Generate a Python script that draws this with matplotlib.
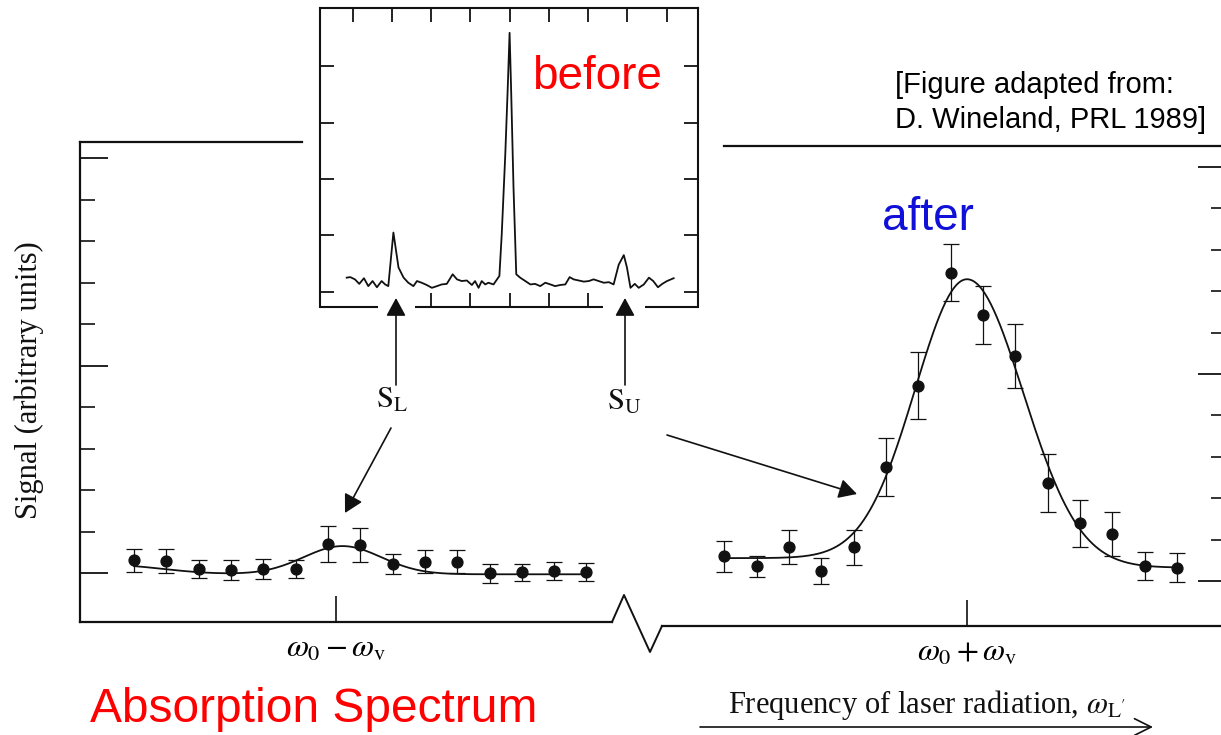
import numpy as np
import matplotlib
matplotlib.use("Agg")
import matplotlib.pyplot as plt
from matplotlib.patches import FancyArrowPatch

plt.rcParams["mathtext.fontset"] = "stix"
plt.rcParams["font.family"] = ["Liberation Serif", "DejaVu Serif"]

# lower sideband (left panel), x in point spacings from w0 - wv
low_x = [-6.25, -5.25, -4.25, -3.25, -2.25, -1.25, -0.25, 0.75, 1.75, 2.75, 3.75, 4.75, 5.75, 6.75, 7.75]
low_y = [0.31, 0.29, 0.10, 0.07, 0.10, 0.10, 0.70, 0.67, 0.22, 0.27, 0.27, 0.00, 0.02, 0.05, 0.02]
low_err = [0.28, 0.30, 0.22, 0.24, 0.25, 0.21, 0.43, 0.41, 0.24, 0.28, 0.28, 0.23, 0.21, 0.22, 0.22]

# upper sideband (right panel), x in point spacings from w0 + wv
up_x = [-7.5, -6.5, -5.5, -4.5, -3.5, -2.5, -1.5, -0.5, 0.5, 1.5, 2.5, 3.5, 4.5, 5.5, 6.5]
up_y = [0.59, 0.35, 0.81, 0.24, 0.81, 2.76, 4.72, 7.45, 6.43, 5.44, 2.36, 1.39, 1.14, 0.36, 0.32]
up_err = [0.38, 0.26, 0.41, 0.31, 0.43, 0.70, 0.80, 0.68, 0.70, 0.77, 0.70, 0.56, 0.53, 0.33, 0.35]

# fitted curves, parameters
low_fit = dict(base=-0.03, amp=0.68, center=0.2, sigma=1.2,
               tail_amp=0.22, tail_center=-7.0, tail_sigma=1.6)
up_fit = dict(base_left=0.55, base_right=0.32, peak=7.29, center=0.0,
              sigma_left=1.6, sigma_right=1.74)

# "before" spectrum (inset)
trace_x = [-4.15, -4.06, -3.94, -3.83, -3.71, -3.60, -3.49, -3.38, -3.26, -3.17, -3.09, -2.96, -2.83,
           -2.70, -2.58, -2.45, -2.36, -2.24, -2.11, -1.98, -1.85, -1.73, -1.60, -1.45, -1.34, -1.22,
           -1.09, -0.96, -0.88, -0.79, -0.71, -0.62, -0.54, -0.41, -0.26, -0.20, -0.11, -0.05, 0.00,
           0.04, 0.10, 0.17, 0.27, 0.40, 0.53, 0.65, 0.78, 0.91, 1.04, 1.16, 1.29, 1.42, 1.53, 1.63,
           1.76, 1.89, 2.02, 2.14, 2.27, 2.40, 2.53, 2.65, 2.78, 2.91, 2.99, 3.08, 3.19, 3.29, 3.42,
           3.55, 3.66, 3.78, 3.89, 4.01, 4.18]
trace_y = [0.25, 0.26, 0.22, 0.14, 0.24, 0.10, 0.19, 0.08, 0.19, 0.13, 0.10, 1.05, 0.43,
           0.25, 0.16, 0.10, 0.19, 0.16, 0.12, 0.07, 0.10, 0.13, 0.14, 0.31, 0.22, 0.19,
           0.20, 0.12, 0.19, 0.07, 0.19, 0.13, 0.16, 0.13, 0.28, 1.02, 2.43, 3.56, 4.59,
           3.56, 1.84, 0.31, 0.25, 0.19, 0.13, 0.14, 0.10, 0.16, 0.13, 0.10, 0.12, 0.13, 0.26, 0.22,
           0.20, 0.18, 0.19, 0.22, 0.19, 0.16, 0.17, 0.13, 0.48, 0.65, 0.43, 0.07, 0.14, 0.07, 0.13,
           0.25, 0.19, 0.08, 0.14, 0.19, 0.24]

low_label = r"$\omega_0 - \omega_{\mathrm{v}}$"
up_label = r"$\omega_0 + \omega_{\mathrm{v}}$"

ink = "#111111"
W, H = 1221, 735


def box(x0, y0, x1, y1):
    return [x0 / W, 1 - y1 / H, (x1 - x0) / W, (y1 - y0) / H]


def low_curve(x, p):
    return (p["base"] + p["amp"] * np.exp(-(x - p["center"]) ** 2 / (2 * p["sigma"] ** 2))
            + p["tail_amp"] * np.exp(-(x - p["tail_center"]) ** 2 / (2 * p["tail_sigma"] ** 2)))


def up_curve(x, p):
    left = x < p["center"]
    sig = np.where(left, p["sigma_left"], p["sigma_right"])
    base = np.where(left, p["base_left"], p["base_right"])
    return base + (p["peak"] - base) * np.exp(-(x - p["center"]) ** 2 / (2 * sig ** 2))


fig = plt.figure(figsize=(W / 100, H / 100), dpi=100)

axL = fig.add_axes(box(80, 142, 612, 622))
axR = fig.add_axes(box(662, 146, 1226, 626))
axL.set_xlim(-7.92, 8.54)
axL.set_ylim(-1.18, 10.39)
axR.set_xlim(-9.43, 8.01)
axR.set_ylim(-1.09, 10.51)

for ax, xs, ys, es, lab in [(axL, low_x, low_y, low_err, low_label),
                            (axR, up_x, up_y, up_err, up_label)]:
    ax.errorbar(xs, ys, yerr=es, fmt="o", color=ink, ms=7.8, elinewidth=0.9,
                capsize=5.8, capthick=0.9)
    ax.set_yticks([0, 5, 10])
    ax.set_yticks([1, 2, 3, 4, 6, 7, 8, 9], minor=True)
    ax.set_xticks([0])
    ax.set_xticklabels([lab])
    ax.tick_params(axis="y", which="major", direction="in", length=20, width=1.3,
                   labelleft=False, labelright=False, color=ink)
    ax.tick_params(axis="y", which="minor", direction="in", length=11, width=1.2, color=ink)
    ax.tick_params(axis="x", direction="in", length=19, width=1.2, pad=9,
                   labelsize=23, color=ink)
    for s in ax.spines.values():
        s.set_linewidth(1.6)
        s.set_color(ink)
    ax.patch.set_alpha(0)

xl = np.linspace(low_x[0], low_x[-1], 300)
axL.plot(xl, low_curve(xl, low_fit), color=ink, lw=1.3)
xr = np.linspace(up_x[0], up_x[-1], 300)
axR.plot(xr, up_curve(xr, up_fit), color=ink, lw=1.3)

axL.spines["right"].set_visible(False)
axL.spines["top"].set_bounds(-7.92, -1.05)
axL.tick_params(axis="y", which="both", left=True, right=False)

axR.spines["left"].set_visible(False)
axR.spines["top"].set_bounds(-7.52, 8.01)
axR.yaxis.tick_right()
axR.tick_params(axis="y", which="both", left=False, right=True, labelright=False)

# inset: spectrum before cooling
axI = fig.add_axes(box(320, 8, 698, 307), zorder=3)
axI.set_xlim(-4.83, 4.80)
axI.set_ylim(-0.27, 5.03)
axI.plot(trace_x, trace_y, color=ink, lw=1.3)
axI.set_xticks([-4, -3, -2, -1, 0, 1, 2, 3, 4])
axI.set_yticks([0, 1, 2, 3, 4])
axI.tick_params(axis="x", direction="in", length=10, width=1.3, top=True, bottom=False,
                labeltop=False, labelbottom=False, color=ink)
axI.tick_params(axis="y", direction="in", length=10, width=1.3, left=True, right=True,
                labelleft=False, labelright=False, color=ink)
for s in axI.spines.values():
    s.set_linewidth(1.5)
    s.set_color(ink)
axI.spines["bottom"].set_visible(False)
sec = axI.secondary_xaxis("bottom")
sec.set_xticks([-2, -1, 0, 1, 2])
sec.tick_params(direction="in", length=10, width=1.3, labelbottom=False, color=ink)
sec.spines["bottom"].set_visible(False)

# overlay in pixel coordinates for frame pieces, arrows and text
ax0 = fig.add_axes([0, 0, 1, 1], zorder=5)
ax0.set_xlim(0, W)
ax0.set_ylim(H, 0)
ax0.axis("off")
ax0.patch.set_alpha(0)

ax0.plot([612, 624, 650, 662], [622, 595, 652, 626], color=ink, lw=1.4)
for a, b in [(320, 378), (415, 603), (645, 698)]:
    ax0.plot([a, b], [307, 307], color=ink, lw=1.5, solid_capstyle="butt")


def arrow(p0, p1, style):
    ax0.add_patch(FancyArrowPatch(p0, p1, arrowstyle=style, mutation_scale=10, lw=1.2,
                                  color=ink, shrinkA=0, shrinkB=0))


filled = "-|>,head_length=1.1,head_width=0.6"
arrow((396, 385), (396, 298), filled)
arrow((625, 385), (625, 298), filled)
arrow((391, 428), (345, 513), filled)
arrow((667, 435), (857, 494), filled)
arrow((700, 727), (1153, 727), "->,head_length=1.2,head_width=0.6")

ax0.text(29, 380, "Signal (arbitrary units)", rotation=90, ha="center", va="center",
         fontsize=22, color=ink)
ax0.text(392, 400, r"$\mathrm{S}_{\mathrm{L}}$", ha="center", va="center", fontsize=22, color=ink)
ax0.text(624, 402, r"$\mathrm{S}_{\mathrm{U}}$", ha="center", va="center", fontsize=22, color=ink)
ax0.text(728, 713, r"Frequency of laser radiation, $\omega_{\mathrm{L}'}$", ha="left",
         va="baseline", fontsize=22, color=ink)

sans = ["Liberation Sans", "DejaVu Sans"]
ax0.text(532, 89, "before", color="#ff0000", fontsize=33, family=sans, va="baseline")
ax0.text(882, 230, "after", color="#1010d8", fontsize=33, family=sans, va="baseline")
ax0.text(90, 722, "Absorption Spectrum", color="#ff0000", fontsize=34.5, family=sans,
         va="baseline")
ax0.text(895, 93, "[Figure adapted from:", fontsize=21, family=sans, va="baseline")
ax0.text(895, 128, "D. Wineland, PRL 1989]", fontsize=21, family=sans, va="baseline")

fig.savefig("out.png", dpi=100)
